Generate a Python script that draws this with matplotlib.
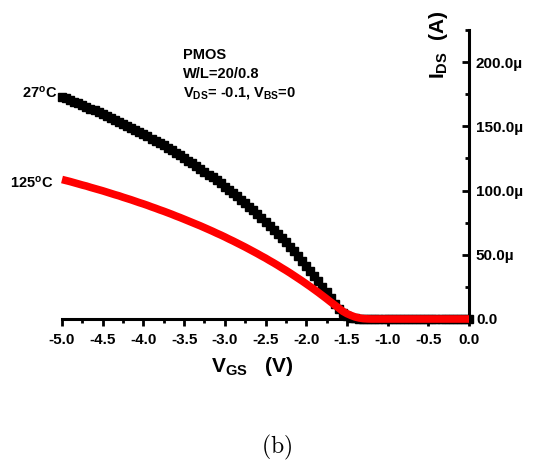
import numpy as np
import matplotlib
matplotlib.use('Agg')
import matplotlib.pyplot as plt
from matplotlib.ticker import MultipleLocator, FuncFormatter

plt.rcParams['font.family'] = ['Liberation Sans', 'DejaVu Sans']
plt.rcParams['font.weight'] = 'bold'
plt.rcParams['mathtext.fontset'] = 'custom'
plt.rcParams['mathtext.rm'] = 'Liberation Sans:bold'
plt.rcParams['mathtext.bf'] = 'Liberation Sans:bold'
plt.rcParams['mathtext.it'] = 'Liberation Sans:bold'

# gate voltage, -5.0 V .. 0.0 V in 0.05 V steps
vgs = np.linspace(-5.0, 0.0, 101)

# drain current (uA), from Vgs = -5.0 upwards
ids_27c = [173.0, 171.7, 170.4, 169.1, 167.8, 166.5, 165.2, 163.8, 162.4, 161.0,
           159.6, 158.1, 156.6, 155.1, 153.6, 152.1, 150.5, 148.9, 147.3, 145.6,
           143.9, 142.2, 140.5, 138.7, 136.9, 135.1, 133.2, 131.3, 129.4, 127.4,
           125.4, 123.3, 121.2, 119.1, 117.0, 114.8, 112.5, 110.2, 107.9, 105.5,
           103.1, 100.6, 98.0, 95.5, 92.8, 90.1, 87.4, 84.5, 81.7, 78.7,
           75.7, 72.6, 69.5, 66.2, 62.9, 59.6, 56.1, 52.6, 48.9, 45.2,
           41.4, 37.4, 33.4, 29.3, 25.0, 20.7, 16.2, 12.0, 7.8, 4.5,
           2.2, 1.0, 0.4, 0.15, 0.05, 0.0, 0.0, 0.0, 0.0, 0.0,
           0.0, 0.0, 0.0, 0.0, 0.0, 0.0, 0.0, 0.0, 0.0, 0.0,
           0.0, 0.0, 0.0, 0.0, 0.0, 0.0, 0.0, 0.0, 0.0, 0.0, 0.0]
ids_125c = [108.6, 107.8, 107.0, 106.1, 105.2, 104.3, 103.5, 102.5, 101.6, 100.7,
            99.8, 98.8, 97.8, 96.8, 95.9, 94.8, 93.8, 92.8, 91.7, 90.6,
            89.6, 88.5, 87.3, 86.2, 85.0, 83.9, 82.7, 81.5, 80.2, 79.0,
            77.7, 76.4, 75.1, 73.8, 72.5, 71.1, 69.7, 68.3, 66.8, 65.4,
            63.9, 62.3, 60.8, 59.2, 57.6, 56.0, 54.3, 52.6, 50.9, 49.1,
            47.4, 45.5, 43.7, 41.8, 39.8, 37.9, 35.9, 33.8, 31.7, 29.6,
            27.4, 25.2, 22.9, 20.6, 18.2, 15.8, 13.3, 10.9, 8.5, 6.0,
            4.2, 2.8, 1.6, 0.8, 0.3, 0.1, 0.0, 0.0, 0.0, 0.0,
            0.0, 0.0, 0.0, 0.0, 0.0, 0.0, 0.0, 0.0, 0.0, 0.0,
            0.0, 0.0, 0.0, 0.0, 0.0, 0.0, 0.0, 0.0, 0.0, 0.0, 0.0]

W, H = 539, 466
fig = plt.figure(figsize=(W/100., H/100.), dpi=100)
ax = fig.add_axes([62./W, 1-319./H, 407./W, 289./H])

ax.plot(vgs, np.array(ids_27c)*1e-6, ls='none', marker='s', ms=5.8, color='k',
        mec='k', clip_on=False, zorder=3)
ax.plot(vgs, np.array(ids_125c)*1e-6, '-', lw=5.5, color='#ff0000',
        solid_capstyle='butt', clip_on=False, zorder=4)

ax.set_xlim(-5.0, 0.0)
ax.set_ylim(0, 225e-6)

for s in ['top', 'left']:
    ax.spines[s].set_visible(False)
for s in ['bottom', 'right']:
    ax.spines[s].set_linewidth(2.2)

ax.yaxis.tick_right()
ax.xaxis.set_major_locator(MultipleLocator(0.5))
ax.xaxis.set_minor_locator(MultipleLocator(0.25))
ax.yaxis.set_major_locator(MultipleLocator(50e-6))
ax.yaxis.set_minor_locator(MultipleLocator(25e-6))
ax.xaxis.set_major_formatter(FuncFormatter(lambda v, p: '%.1f' % v))
ax.yaxis.set_major_formatter(FuncFormatter(
    lambda v, p: '0.0' if abs(v) < 1e-12 else '%.1f\u00b5' % (v*1e6)))
ax.tick_params(axis='x', which='major', direction='out', length=5, width=2,
               labelsize=11, pad=5)
ax.tick_params(axis='x', which='minor', direction='out', length=3, width=2)
ax.tick_params(axis='y', which='major', direction='in', length=5, width=2,
               labelsize=11, pad=5)
ax.tick_params(axis='y', which='minor', direction='in', length=3, width=2)
for lab in ax.get_xticklabels() + ax.get_yticklabels():
    lab.set_fontweight('bold')

# axis titles
fig.text(252./W, 1-366./H, r'$\mathbf{V_{GS}}$   (V)', fontsize=15,
         fontweight='bold', ha='center', va='center')
fig.text(438./W, 1-45./H, r'$\mathbf{I_{DS}}$  (A)', fontsize=15,
         fontweight='bold', ha='center', va='center', rotation=90)

# device info
fig.text(183./W, 1-55./H, 'PMOS', fontsize=10.5, fontweight='bold', va='center')
fig.text(183./W, 1-74./H, 'W/L=20/0.8', fontsize=10.5, fontweight='bold', va='center')
fig.text(183./W, 1-93./H, r'$\mathbf{V_{DS}}$= -0.1, $\mathbf{V_{BS}}$=0',
         fontsize=10.5, fontweight='bold', va='center')

# temperature labels
fig.text(57./W, 1-93./H, r'27$^{\mathbf{o}}$C', fontsize=10.5,
         fontweight='bold', ha='right', va='center')
fig.text(53./W, 1-183./H, r'125$^{\mathbf{o}}$C', fontsize=10.5,
         fontweight='bold', ha='right', va='center')

fig.text(277./W, 1-447./H, r'$\mathrm{(b)}$', fontsize=17, ha='center',
         va='center', math_fontfamily='cm')

fig.savefig('out.png', dpi=100)
